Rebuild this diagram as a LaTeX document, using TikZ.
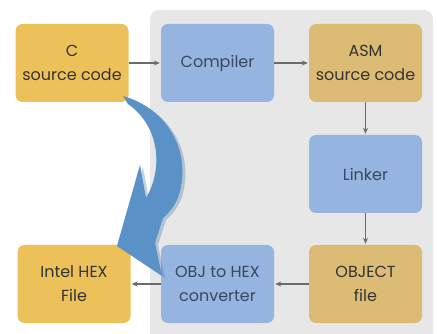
\documentclass[tikz,border=0pt]{standalone}
\usepackage{fontspec}
\setmainfont{Poppins}
\usetikzlibrary{arrows.meta}
\definecolor{panel}{HTML}{E7E7E7}
\definecolor{yel}{HTML}{EDC15A}
\definecolor{tan}{HTML}{DCBB74}
\definecolor{blu}{HTML}{95B4DF}
\definecolor{txt}{HTML}{333333}
\definecolor{btxt}{HTML}{3A4760}
\definecolor{arr}{HTML}{6A6A6A}
\definecolor{big}{HTML}{5A91C6}
\definecolor{bigsh}{HTML}{3E6F9E}
\tikzset{
  box/.style={rounded corners=7pt, minimum width=113pt, minimum height=78pt, inner sep=0pt, align=center, font=\fontsize{16}{24}\selectfont, text=txt},
  ybox/.style={box, fill=yel},
  tbox/.style={box, fill=tan},
  bbox/.style={box, fill=blu, text=btxt},
  link/.style={draw=arr, line width=1.1pt, -{Stealth[length=6pt,width=5pt]}, shorten >=1pt},
}
\begin{document}
\begin{tikzpicture}[x=1pt,y=-1pt]
\useasboundingbox (0,0) rectangle (437,334);
\fill[white] (0,0) rectangle (437,334);
\fill[panel, rounded corners=9pt] (150,10) rectangle (433,350);
\node[ybox] (c) at (72,63) {C\\source code};
\node[bbox] (comp) at (217.5,63) {Compiler};
\node[tbox] (asm) at (365.5,63) {ASM\\source code};
\node[bbox] (link) at (365.5,174) {Linker};
\node[tbox] (obj) at (365.5,284) {OBJECT\\file};
\node[bbox] (o2h) at (217.5,284) {OBJ to HEX\\converter};
\node[ybox] (hex) at (74,284) {Intel HEX\\File};
\draw[link] (c) -- (comp);
\draw[link] (comp) -- (asm);
\draw[link] (asm) -- (link);
\draw[link] (link) -- (obj);
\draw[link] (obj) -- (o2h);
\draw[link] (o2h) -- (hex);
% big curved arrow (shadow then body)
\fill[bigsh, opacity=0.3, shift={(3,2)}]
  (123,96) .. controls (165,108) and (186,145) .. (182,180)
  .. controls (180,200) and (172,210) .. (163,218)
  -- (155,243) -- (162,276) -- (117,246) -- (140,165) -- (146,198)
  .. controls (162,172) and (162,128) .. (128,104) -- cycle;
\fill[big]
  (123,96) .. controls (165,108) and (186,145) .. (182,180)
  .. controls (180,200) and (172,210) .. (163,218)
  -- (155,243) -- (162,276) -- (117,246) -- (140,165) -- (146,198)
  .. controls (162,172) and (162,128) .. (128,104) -- cycle;
\end{tikzpicture}
\end{document}
